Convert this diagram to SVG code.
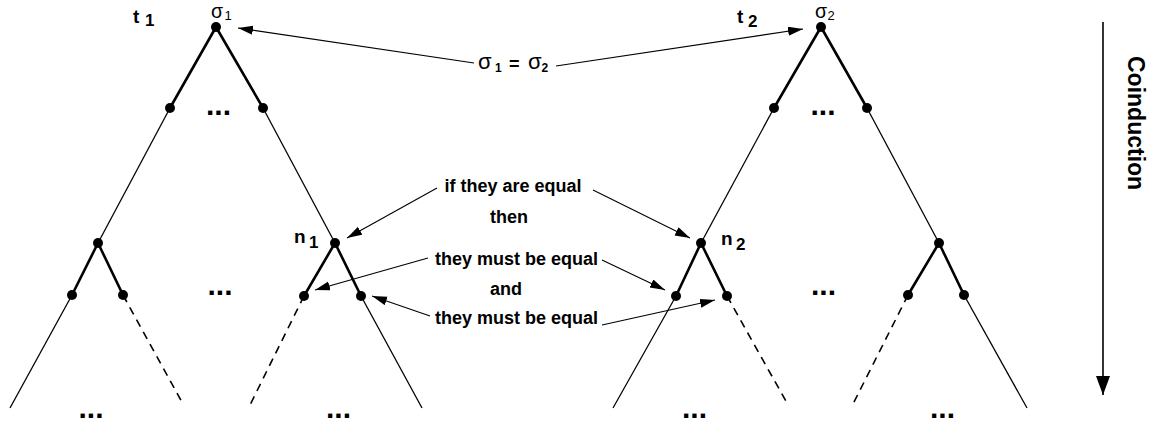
<svg xmlns="http://www.w3.org/2000/svg" width="1153" height="424" viewBox="0 0 1153 424">
<style>
text{font-family:"Liberation Sans",Arial,sans-serif;fill:#000}
.b{font-weight:bold}
.big{font-size:19px;font-weight:bold}
.sub{font-size:17px;font-weight:bold}
.lbl{font-size:18px;font-weight:bold;text-anchor:middle}
.sig{font-size:22px}
.sigt{font-size:19.5px}
.dots{font-size:30px;font-weight:bold;text-anchor:middle}
.thick{stroke:#000;stroke-width:2.6;fill:none;stroke-linecap:round}
.thin{stroke:#000;stroke-width:1.3;fill:none}
.dash{stroke:#000;stroke-width:1.6;fill:none;stroke-dasharray:8,6}
.arr{stroke:#000;stroke-width:1.1;fill:none;marker-end:url(#ah)}
circle{fill:#000}
</style>
<defs>
<marker id="ah" markerUnits="userSpaceOnUse" markerWidth="16" markerHeight="10" refX="15" refY="4.5" orient="auto">
<path d="M0,0 L15,4.5 L0,9 z" fill="#000"/>
</marker>
<marker id="ah2" markerUnits="userSpaceOnUse" markerWidth="20" markerHeight="16" refX="19" refY="7" orient="auto">
<path d="M0,0 L19,7 L0,14 z" fill="#000"/>
</marker>
</defs>
<rect width="1153" height="424" fill="#fff"/>

<g id="tree1-edges">
<line class="thick" x1="216" y1="27" x2="170" y2="108"/>
<line class="thick" x1="216" y1="27" x2="263" y2="108"/>
<line class="thin" x1="170" y1="108" x2="98" y2="243"/>
<line class="thin" x1="263" y1="108" x2="335" y2="243"/>
<line class="thick" x1="98" y1="243" x2="72" y2="295"/>
<line class="thick" x1="98" y1="243" x2="123" y2="295"/>
<line class="thick" x1="335" y1="243" x2="304" y2="296"/>
<line class="thick" x1="335" y1="243" x2="361" y2="296"/>
<line class="thin" x1="72" y1="295" x2="10" y2="408"/>
<line class="thin" x1="361" y1="296" x2="422" y2="408"/>
<line class="dash" x1="123" y1="295" x2="183" y2="404"/>
<line class="dash" x1="304" y1="296" x2="250" y2="405"/>
</g>
<g id="tree2-edges">
<line class="thick" x1="821" y1="27" x2="774" y2="108"/>
<line class="thick" x1="821" y1="27" x2="867" y2="108"/>
<line class="thin" x1="774" y1="108" x2="701" y2="243"/>
<line class="thin" x1="867" y1="108" x2="939" y2="243"/>
<line class="thick" x1="701" y1="243" x2="676" y2="296"/>
<line class="thick" x1="701" y1="243" x2="727" y2="296"/>
<line class="thick" x1="939" y1="243" x2="908" y2="295"/>
<line class="thick" x1="939" y1="243" x2="964" y2="295"/>
<line class="thin" x1="676" y1="296" x2="613" y2="408"/>
<line class="thin" x1="964" y1="295" x2="1027" y2="408"/>
<line class="dash" x1="727" y1="296" x2="787" y2="403"/>
<line class="dash" x1="908" y1="295" x2="852" y2="406"/>
</g>

<g id="node-sigma1"><circle cx="216" cy="27" r="5"/>
<text class="sigt" x="211" y="18">σ</text><text x="224.5" y="20" font-size="13">1</text></g>
<g id="node-t1-l1a"><circle cx="170" cy="108" r="5"/></g>
<g id="node-t1-l1b"><circle cx="263" cy="108" r="5"/></g>
<g id="node-t1-l2a"><circle cx="98" cy="243" r="5"/></g>
<g id="node-n1"><circle cx="335" cy="243" r="5"/>
<text class="big" x="294" y="243">n</text><text class="sub" x="309" y="248">1</text></g>
<g id="node-t1-l3a"><circle cx="72" cy="295" r="5"/></g>
<g id="node-t1-l3b"><circle cx="123" cy="295" r="5"/></g>
<g id="node-n1-left"><circle cx="304" cy="296" r="5"/></g>
<g id="node-n1-right"><circle cx="361" cy="296" r="5"/></g>

<g id="node-sigma2"><circle cx="821" cy="27" r="5"/>
<text class="sigt" x="815" y="18">σ</text><text x="827.5" y="20" font-size="13">2</text></g>
<g id="node-t2-l1a"><circle cx="774" cy="108" r="5"/></g>
<g id="node-t2-l1b"><circle cx="867" cy="108" r="5"/></g>
<g id="node-n2"><circle cx="701" cy="243" r="5"/>
<text class="big" x="721" y="245">n</text><text class="sub" x="736" y="250">2</text></g>
<g id="node-t2-l2b"><circle cx="939" cy="243" r="5"/></g>
<g id="node-n2-left"><circle cx="676" cy="296" r="5"/></g>
<g id="node-n2-right"><circle cx="727" cy="296" r="5"/></g>
<g id="node-t2-l3a"><circle cx="908" cy="295" r="5"/></g>
<g id="node-t2-l3b"><circle cx="964" cy="295" r="5"/></g>

<g id="labels">
<text class="big" x="133" y="23">t</text><text class="sub" x="145" y="26">1</text>
<text class="big" x="737" y="23">t</text><text class="sub" x="748" y="27">2</text>
<text class="sig" x="478" y="69">σ</text><text class="b" font-size="12" x="495" y="72">1</text>
<text class="b" font-size="18" x="509" y="70">=</text>
<text class="sig" x="528" y="69">σ</text><text class="b" font-size="12" x="541.5" y="72">2</text>
<text class="lbl" x="513" y="192">if they are equal</text>
<text class="lbl" x="509" y="223">then</text>
<text class="lbl" x="516.5" y="265">they must be equal</text>
<text class="lbl" x="506" y="295">and</text>
<text class="lbl" x="516.5" y="324">they must be equal</text>
<text class="b" font-size="23" transform="translate(1128,56) rotate(90)">Coinduction</text>
</g>

<g id="ellipses">
<text class="dots" x="218.5" y="115">...</text>
<text class="dots" x="823" y="115">...</text>
<text class="dots" x="220" y="295">...</text>
<text class="dots" x="823.5" y="295">...</text>
<text class="dots" x="91" y="418">...</text>
<text class="dots" x="338.5" y="418">...</text>
<text class="dots" x="694.5" y="418">...</text>
<text class="dots" x="942.5" y="418">...</text>
</g>

<g id="connectors">
<line class="arr" x1="474" y1="63" x2="238" y2="28"/>
<line class="arr" x1="556" y1="66" x2="803" y2="29"/>
<line class="arr" x1="437" y1="188" x2="347" y2="238"/>
<line class="arr" x1="593" y1="190" x2="690" y2="238"/>
<line class="arr" x1="428" y1="258" x2="315" y2="290"/>
<line class="arr" x1="602" y1="260" x2="665" y2="290"/>
<line class="arr" x1="430" y1="316" x2="372" y2="296"/>
<line class="arr" x1="602" y1="325" x2="715" y2="300"/>
<line stroke="#000" stroke-width="1.6" x1="1103" y1="22" x2="1103" y2="395" marker-end="url(#ah2)"/>
</g>
</svg>
